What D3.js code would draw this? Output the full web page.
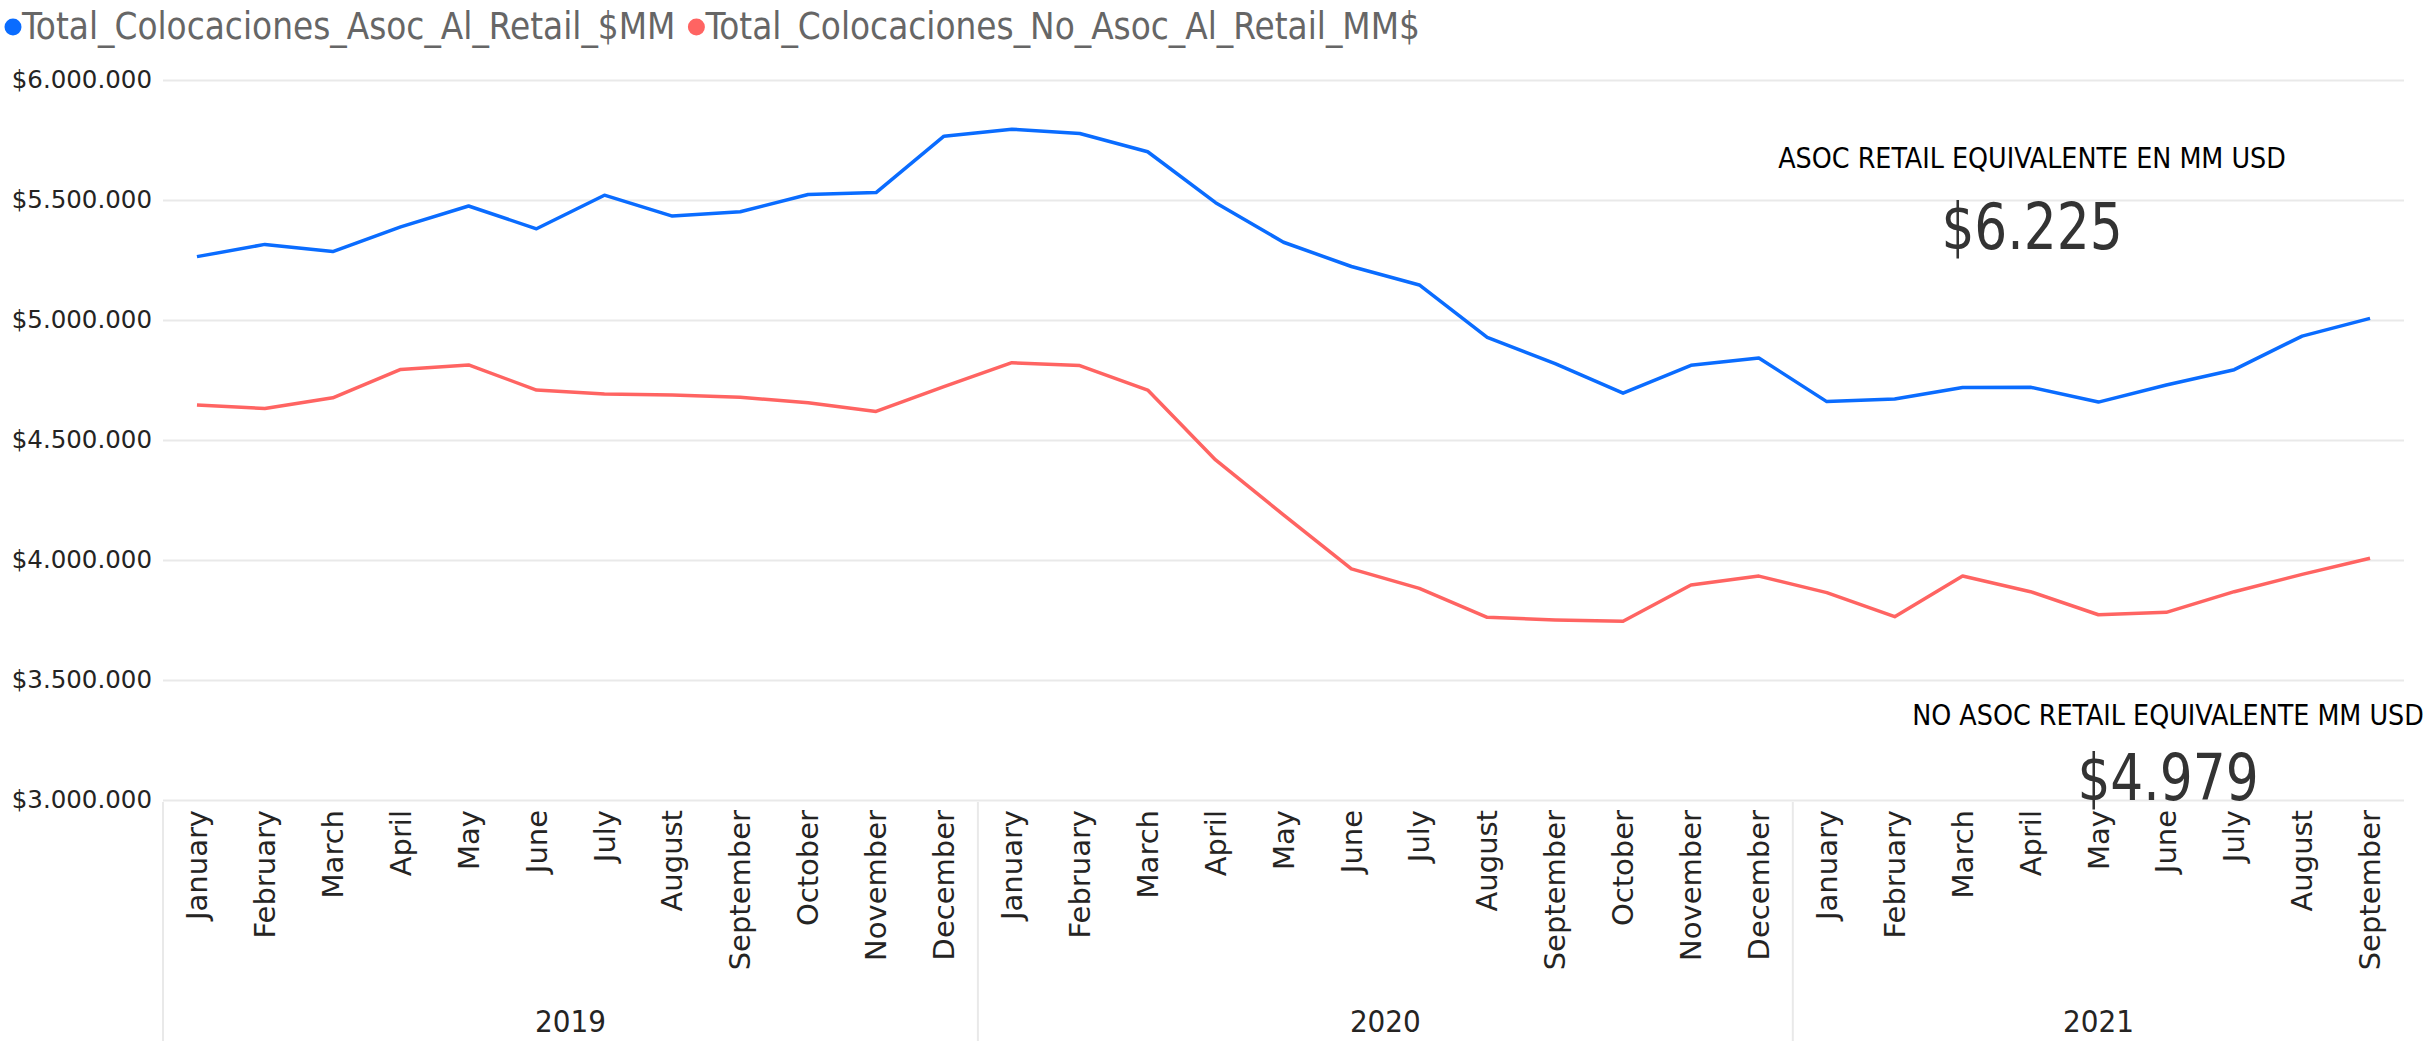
<!DOCTYPE html>
<html lang="en">
<head>
<meta charset="utf-8">
<script src="https://d3js.org/d3.v7.min.js"></script>
<style>
  body { margin: 0; background: #fff; }
  svg { display: block; background: #fff; }
  .grid line { stroke: #e9e9e9; stroke-width: 2px; }
  .grid path { display: none; }
  .yaxis text { font-family: "DejaVu Sans", sans-serif; font-size: 24.5px; fill: #252423; }
  .xaxis text { font-family: "DejaVu Sans", sans-serif; font-size: 29px; fill: #252423; }
  .line { fill: none; stroke-width: 3.5px; stroke-linejoin: round; }
  .cond { font-family: "DejaVu Sans Condensed", "DejaVu Sans", sans-serif; font-stretch: condensed; }
</style>
</head>
<body>
<svg width="2432" height="1041"></svg>
<script>
// months shown on the category axis (Jan 2019 .. Sep 2021)
const years = ["2019", "2020", "2021"];
const monthNames = ["January", "February", "March", "April", "May", "June",
                    "July", "August", "September", "October", "November", "December"];
const monthsPerYear = [12, 12, 9];

// Total_Colocaciones_Asoc_Al_Retail_$MM
const asocRetail = [
  5264000, 5315000, 5285000, 5388000, 5475000, 5380000, 5520000, 5433000, 5451000, 5523000, 5531000, 5766000,
  5795000, 5777000, 5701000, 5489000, 5324000, 5223000, 5146000, 4928000, 4818000, 4695000, 4811000, 4842000,
  4660000, 4671000, 4719000, 4720000, 4658000, 4729000, 4793000, 4933000, 5007000
];
// Total_Colocaciones_No_Asoc_Al_Retail_MM$
const noAsocRetail = [
  4646000, 4631000, 4676000, 4794000, 4813000, 4708000, 4692000, 4688000, 4678000, 4655000, 4619000, 4722000,
  4822000, 4810000, 4708000, 4417000, 4188000, 3963000, 3882000, 3761000, 3750000, 3745000, 3896000, 3933000,
  3864000, 3764000, 3933000, 3868000, 3772000, 3782000, 3868000, 3940000, 4007000
];

const yTicks = [3000000, 3500000, 4000000, 4500000, 5000000, 5500000, 6000000];

const seriesNames = ["Total_Colocaciones_Asoc_Al_Retail_$MM", "Total_Colocaciones_No_Asoc_Al_Retail_MM$"];
const seriesColors = ["#0A6CFF", "#FF6462"];

const cards = [
  {title: "ASOC RETAIL EQUIVALENTE EN MM USD", value: "$6.225"},
  {title: "NO ASOC RETAIL EQUIVALENTE MM USD", value: "$4.979"}
];

// build the category keys
const cats = [];
years.forEach((yr, i) => {
  for (let m = 0; m < monthsPerYear[i]; m++) cats.push({key: yr + "-" + m, year: yr, month: monthNames[m]});
});

const svg = d3.select("svg");
const plotLeft = 163, plotRight = 2404, plotTop = 80, plotBottom = 800;

const x = d3.scaleBand().domain(cats.map(d => d.key)).range([plotLeft, plotRight]);
const y = d3.scaleLinear().domain([3000000, 6000000]).range([plotBottom, plotTop]);

const loc = d3.formatLocale({decimal: ",", thousands: ".", grouping: [3], currency: ["$", ""]});
const fmt = loc.format("$,.0f");

// gridlines
svg.append("g")
  .attr("class", "grid")
  .attr("transform", "translate(" + plotLeft + ",0)")
  .call(d3.axisRight(y).tickValues(yTicks).tickSize(plotRight - plotLeft).tickFormat(""));

// y axis labels
svg.append("g")
  .attr("class", "yaxis")
  .attr("transform", "translate(152,0)")
  .call(d3.axisLeft(y).tickValues(yTicks).tickSize(0).tickPadding(0).tickFormat(fmt))
  .call(g => g.select(".domain").remove());

// month labels
const xAxis = svg.append("g")
  .attr("class", "xaxis")
  .attr("transform", "translate(0," + plotBottom + ")")
  .call(d3.axisBottom(x).tickSize(0).tickFormat((d, i) => cats[i].month));
xAxis.select(".domain").remove();
xAxis.selectAll("text")
  .attr("transform", "rotate(-90)")
  .attr("text-anchor", "end")
  .attr("x", -10)
  .attr("y", 0)
  .attr("dy", "0.35em");

// year separators + labels
let start = 0;
years.forEach((yr, i) => {
  const x0 = x(cats[start].key);
  const x1 = x(cats[start + monthsPerYear[i] - 1].key) + x.bandwidth();
  svg.append("line")
    .attr("x1", x0).attr("x2", x0)
    .attr("y1", plotBottom + 2).attr("y2", 1041)
    .attr("stroke", "#e9e9e9").attr("stroke-width", 2);
  svg.append("text")
    .attr("class", "cond")
    .attr("x", (x0 + x1) / 2)
    .attr("y", 1032)
    .attr("text-anchor", "middle")
    .attr("font-size", 31)
    .attr("fill", "#252423")
    .text(yr);
  start += monthsPerYear[i];
});

// lines
const line = d3.line()
  .x((d, i) => x(cats[i].key) + x.bandwidth() / 2)
  .y(d => y(d));

[asocRetail, noAsocRetail].forEach((vals, i) => {
  svg.append("path")
    .datum(vals)
    .attr("class", "line")
    .attr("stroke", seriesColors[i])
    .attr("d", line);
});

// legend
const legend = svg.append("g").attr("class", "cond");
let lx = 13;
seriesNames.forEach((name, i) => {
  legend.append("circle")
    .attr("cx", lx).attr("cy", 27).attr("r", 8.5)
    .attr("fill", seriesColors[i]);
  const t = legend.append("text")
    .attr("x", lx + 9).attr("y", 39)
    .attr("font-size", 36.5)
    .attr("fill", "#666")
    .text(name);
  lx += 9 + t.node().getComputedTextLength() + 21;
});

// cards
const cardPos = [{cx: 2032, ty: 168, vy: 249}, {cx: 2168, ty: 725, vy: 800}];
cards.forEach((c, i) => {
  const p = cardPos[i];
  svg.append("text")
    .attr("class", "cond")
    .attr("x", p.cx).attr("y", p.ty)
    .attr("text-anchor", "middle")
    .attr("font-size", 28.3)
    .attr("fill", "#000")
    .text(c.title);
  svg.append("text")
    .attr("class", "cond")
    .attr("transform", "translate(" + p.cx + "," + p.vy + ") scale(0.9,1)")
    .attr("text-anchor", "middle")
    .attr("font-size", 64)
    .attr("fill", "#333")
    .text(c.value);
});
</script>
</body>
</html>
